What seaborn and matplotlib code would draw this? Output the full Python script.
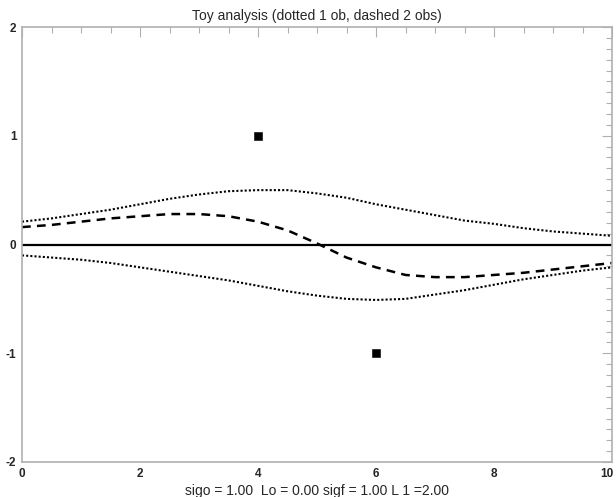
import numpy as np
import pandas as pd
import seaborn as sns
import matplotlib.pyplot as plt
from matplotlib.ticker import MultipleLocator, FuncFormatter

# positions along the line, every half unit
xpos = [0, 0.5, 1, 1.5, 2, 2.5, 3, 3.5, 4, 4.5, 5,
        5.5, 6, 6.5, 7, 7.5, 8, 8.5, 9, 9.5, 10]

# one observation at x=4 (upper dotted)
one_ob_a = [0.21, 0.24, 0.28, 0.32, 0.37, 0.42, 0.46, 0.49, 0.50, 0.50, 0.47,
            0.43, 0.37, 0.32, 0.27, 0.22, 0.19, 0.15, 0.12, 0.10, 0.08]
# one observation at x=6 (lower dotted)
one_ob_b = [-0.10, -0.12, -0.14, -0.17, -0.21, -0.25, -0.29, -0.33, -0.38, -0.43, -0.47,
            -0.50, -0.51, -0.50, -0.46, -0.42, -0.37, -0.32, -0.28, -0.24, -0.21]
# both observations together (dashed)
two_obs = [0.16, 0.18, 0.21, 0.24, 0.26, 0.28, 0.28, 0.26, 0.21, 0.13, 0.01,
           -0.12, -0.21, -0.28, -0.30, -0.30, -0.28, -0.26, -0.23, -0.20, -0.17]

obs_x = [4, 6]
obs_y = [1, -1]

sns.set_style("white")
plt.rcParams['font.family'] = ['Liberation Sans', 'DejaVu Sans']
plt.rcParams['axes.unicode_minus'] = False

df = pd.DataFrame({"x": xpos, "a": one_ob_a, "b": one_ob_b, "ab": two_obs})

fig = plt.figure(figsize=(6.16, 4.97), dpi=100)
ax = fig.add_axes([22 / 616, 35 / 497, 590 / 616, 435 / 497])

ax.axhline(0, color="black", linewidth=1.6, zorder=1)
sns.lineplot(data=df, x="x", y="a", ax=ax, color="black", linestyle=(0, (1, 1)), linewidth=1.5)
sns.lineplot(data=df, x="x", y="b", ax=ax, color="black", linestyle=(0, (1, 1)), linewidth=1.5)
sns.lineplot(data=df, x="x", y="ab", ax=ax, color="black", linestyle=(0, (3.5, 2.5)), linewidth=1.8)
sns.scatterplot(x=obs_x, y=obs_y, ax=ax, color="black", marker="s", s=26, edgecolor="black", zorder=5)

ax.set_xlim(0, 10)
ax.set_ylim(-2, 2)
ax.xaxis.set_major_locator(MultipleLocator(2))
ax.xaxis.set_minor_locator(MultipleLocator(0.5))
ax.yaxis.set_major_locator(MultipleLocator(1))
ax.yaxis.set_minor_locator(MultipleLocator(0.1))
# the "10" at the right edge is drawn separately so it stays inside the figure
ax.xaxis.set_major_formatter(FuncFormatter(lambda v, p: "" if v >= 10 else f"{v:g}"))
ax.tick_params(which="both", direction="in", top=True, right=True, color="#b0b0b0",
               labelsize=8.5, width=0.8)
ax.tick_params(which="major", length=7, pad=4)
ax.tick_params(which="minor", length=4)
for s in ax.spines.values():
    s.set_color("#b0b0b0")
    s.set_linewidth(1.2)
ax.annotate("10", xy=(1, 0), xycoords="axes fraction", xytext=(1, -4),
            textcoords="offset points", ha="right", va="top",
            fontsize=8.5, fontweight="bold")

ax.set_title("Toy analysis (dotted 1 ob, dashed 2 obs)", fontsize=10, pad=5)
ax.set_xlabel("sigo = 1.00  Lo = 0.00 sigf = 1.00 L 1 =2.00", fontsize=10, labelpad=3)
ax.set_ylabel("")

fig.canvas.draw()
for lbl in ax.get_xticklabels() + ax.get_yticklabels():
    lbl.set_fontweight("bold")

plt.savefig("out.png", dpi=100)
